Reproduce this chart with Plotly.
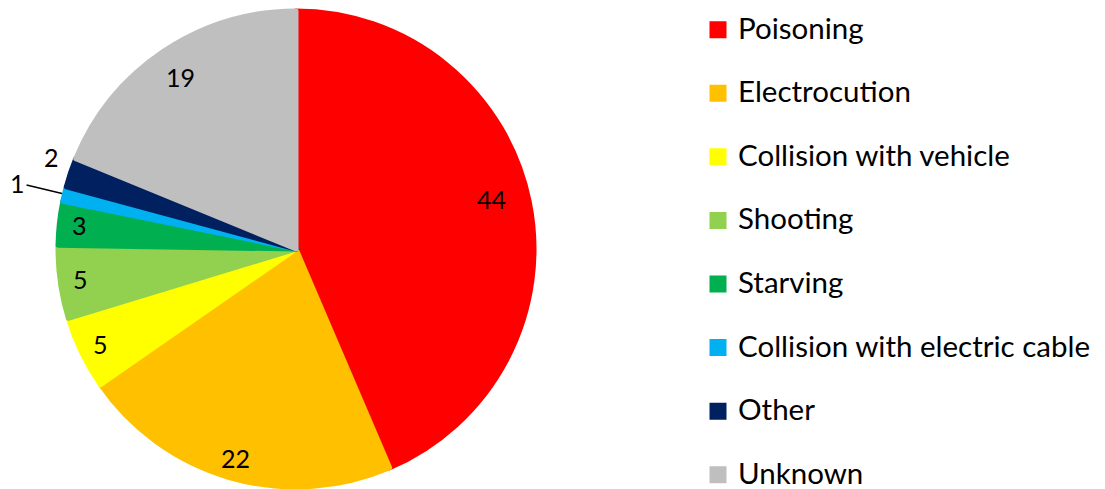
import math
import plotly.graph_objects as go

# ---- data ----
categories = ["Poisoning", "Electrocution", "Collision with vehicle", "Shooting",
              "Starving", "Collision with electric cable", "Other", "Unknown"]
values = [44, 22, 5, 5, 3, 1, 2, 19]
colors = ["#FF0000", "#FFC000", "#FFFF00", "#92D050",
          "#00B050", "#00B0F0", "#002060", "#BFBFBF"]

# ---- layout constants (page has an 8px body margin, compensated here) ----
W, H = 1105, 489
OFF = 8
CX, CY, R = 296 - OFF, 249 - OFF, 238   # pie centre / radius in px
R_VIS = R + 2.5                          # visible radius incl. slice outline
LABEL_FRAC = 0.905                       # default radial position of inside labels
LABEL_FRAC_OVERRIDE = {"Poisoning": 0.84, "Unknown": 0.86}
LABEL_ANGLE_NUDGE = {"Poisoning": -2.8, "Other": 2.0}      # degrees
OUTSIDE = {"Collision with electric cable": (1.19, True),   # (radius frac, leader line)
           "Other": (1.085, False)}
LEGEND_FONT = 23.3                  # controls row pitch
LEGEND_TEXT = 29.5                  # visible legend text size
LABEL_FONT = dict(family="Lato", size=25, color="#000000")

legend_labels = ['<span style="font-size:%spx">%s</span><br> ' % (LEGEND_TEXT, c)
                 for c in categories]

fig = go.Figure(go.Pie(
    labels=legend_labels,
    values=values,
    sort=False,
    direction="clockwise",
    rotation=0,
    textinfo="none",
    hoverinfo="skip",
    marker=dict(colors=colors, line=dict(color=colors, width=5)),
    domain=dict(x=[(CX - R) / W, (CX + R) / W],
                y=[1 - (CY + R) / H, 1 - (CY - R) / H]),
))

# value labels placed along each slice's bisector (computed from the data)
total = sum(values)
annotations = []
cum = 0.0
for cat, v in zip(categories, values):
    mid = (cum + v / 2) / total * 2 * math.pi
    cum += v
    lab = mid + math.radians(LABEL_ANGLE_NUDGE.get(cat, 0.0))
    frac, leader = OUTSIDE.get(cat, (LABEL_FRAC_OVERRIDE.get(cat, LABEL_FRAC), False))
    rr = frac * R_VIS
    px = CX + rr * math.sin(lab)
    py = CY - rr * math.cos(lab)
    if leader:
        ex = CX + R_VIS * math.sin(mid)
        ey = CY - R_VIS * math.cos(mid)
        annotations.append(dict(
            x=ex / W, y=1 - ey / H, xref="paper", yref="paper",
            ax=px - ex, ay=py - ey, text=str(v), showarrow=True,
            arrowhead=0, arrowwidth=1.5, arrowcolor="#000000", standoff=0,
            font=LABEL_FONT))
    else:
        annotations.append(dict(
            x=px / W, y=1 - py / H, xref="paper", yref="paper",
            xanchor="center", yanchor="middle",
            text=str(v), showarrow=False, font=LABEL_FONT))

fig.update_layout(
    width=W, height=H,
    margin=dict(l=0, r=0, t=0, b=0, autoexpand=False),
    paper_bgcolor="white",
    plot_bgcolor="white",
    showlegend=True,
    legend=dict(x=(698 - OFF) / W, xanchor="left", y=1.0, yanchor="top",
                valign="top", maxheight=900, tracegroupgap=0,
                font=dict(family="Lato", size=LEGEND_FONT, color="#000000"),
                bgcolor="rgba(0,0,0,0)"),
    annotations=annotations,
)

fig.write_html("out.html")
